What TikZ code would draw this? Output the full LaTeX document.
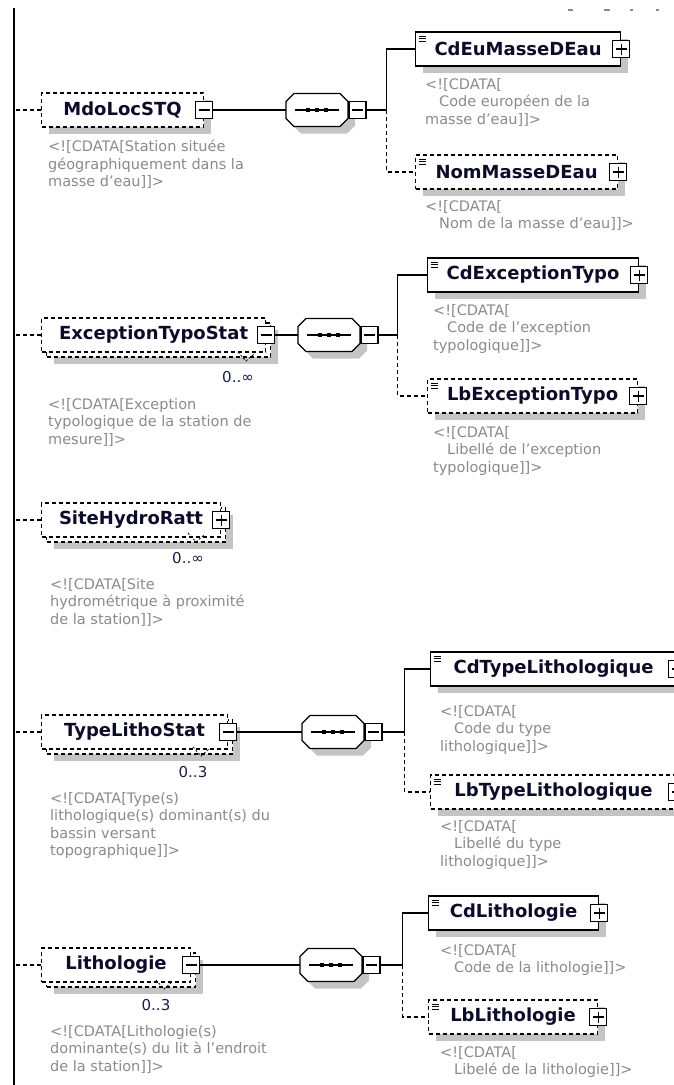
\documentclass[tikz,border=0pt]{standalone}
\usepackage{fontspec}
\setmainfont{DejaVu Sans}
\usetikzlibrary{shadows}
\definecolor{notegray}{RGB}{138,138,138}
\definecolor{boxshadow}{RGB}{196,196,196}
\definecolor{namecol}{RGB}{12,12,40}
\definecolor{cardcol}{RGB}{22,32,72}

\begin{document}
\begin{tikzpicture}[x=1pt,y=-1pt,
	elem/.style={draw, fill=white, line width=1.1pt, minimum height=34, inner sep=0pt, anchor=west, text=namecol, font=\fontsize{18}{21}\selectfont\bfseries},
	opt/.style={elem, dash pattern=on 4pt off 3pt},
	boxshade/.style={drop shadow={shadow xshift=7pt, shadow yshift=-7pt, opacity=1, fill=boxshadow, draw=none}},
	simple/.style={path picture={\draw[solid, black, line width=0.6pt] ([xshift=3pt,yshift=-4pt]path picture bounding box.north west) -- ++(7pt,0pt) ++(-7pt,-2.5pt) -- ++(7pt,0pt) ++(-7pt,-2.5pt) -- ++(7pt,0pt);}},
	tog/.style={draw, solid, fill=white, line width=1.1pt, minimum size=17, inner sep=0pt},
	minus/.style={tog, path picture={\draw[black, line width=1.1pt] ([xshift=3pt]path picture bounding box.west) -- ([xshift=-3pt]path picture bounding box.east);}},
	plus/.style={tog, path picture={\draw[black, line width=1.1pt] ([xshift=3pt]path picture bounding box.west) -- ([xshift=-3pt]path picture bounding box.east) ([yshift=-3pt]path picture bounding box.north) -- ([yshift=3pt]path picture bounding box.south);}},
	seq/.style={minimum width=62, minimum height=33, inner sep=0pt, anchor=west},
	seqpath/.style={insert path={++(0,-8.5) -- ++(8,-8) -- ++(46,0) -- ++(8,8) -- ++(0,17) -- ++(-8,8) -- ++(-46,0) -- ++(-8,-8) -- cycle}},
	seqline/.style={draw, fill=white, line width=1.1pt, boxshade,
		path picture={\draw[black, line width=1.1pt] ([xshift=9pt]path picture bounding box.west) -- ([xshift=-9pt]path picture bounding box.east);
			\fill[black] ([xshift=-9pt]path picture bounding box.center) +(-2.4pt,-2.4pt) rectangle +(2.4pt,2.4pt);
			\fill[black] (path picture bounding box.center) +(-2.4pt,-2.4pt) rectangle +(2.4pt,2.4pt);
			\fill[black] ([xshift=9pt]path picture bounding box.center) +(-2.4pt,-2.4pt) rectangle +(2.4pt,2.4pt);}},
	link/.style={line width=1.1pt},
	optlink/.style={link, dash pattern=on 4pt off 3pt},
	note/.style={anchor=north west, inner sep=0pt, align=left, text=notegray, font=\fontsize{14.5}{17.5}\selectfont},
	card/.style={inner sep=0pt, text=cardcol, font=\fontsize{15}{17}\selectfont},
	cardtick/.style={line width=0.8pt, dash pattern=on 2pt off 2pt}]
	\useasboundingbox (0,0) rectangle (673,1085);
	\coordinate (spinetop) at (14,8);
	\coordinate (spinebot) at (14,1085);
	\draw [line width=2pt] (spinetop) -- (spinebot);
	\draw [notegray, line width=1.2pt] (568,10) -- ++(5,0) (604,10) -- ++(6,0) (630,10) -- ++(3,0) (656,10) -- ++(3,0);

	\node [opt, boxshade, minimum width=162] (m1) at (41,110) {MdoLocSTQ};
	\node [minus] (m1t) at (m1.east) {};
	\node [seq] (s1) at (286,110) {};
	\filldraw [seqline] (s1.west) [seqpath];
	\node [minus, anchor=west] (s1t) at (s1.east) {};
	\node [elem, boxshade, simple, minimum width=205] (c1a) at (415,49) {CdEuMasseDEau};
	\node [plus] (c1at) at (c1a.east) {};
	\node [opt, boxshade, simple, minimum width=202] (c1b) at (415,172) {NomMasseDEau};
	\node [plus] (c1bt) at (c1b.east) {};
	\draw [optlink] (m1.west) -- (m1.west -| spinetop);
	\draw [link] (m1t.east) -- (s1.west);
	\draw [link] (s1t.east) -- ++(20,0) coordinate (j1) |- (c1a.west);
	\draw [optlink] (j1) |- (c1b.west);
	\node [note] (n1) at (48,140) {<![CDATA[Station située\\géographiquement dans la\\masse d'eau]]>};
	\node [note] (n1a) at (425,78) {<![CDATA[\\\hspace*{14pt}Code européen de la\\masse d'eau]]>};
	\node [note] (n1b) at (425,200) {<![CDATA[\\\hspace*{14pt}Nom de la masse d'eau]]>};

	\node [opt, boxshade, minimum width=224] (m2b) at (46,340) {};
	\node [opt, minimum width=224] (m2) at (41,335) {ExceptionTypoStat};
	\node [minus] (m2t) at (m2.east) {};
	\node [card] (k2) at (238,377) {0..∞};
	\draw [cardtick] ([shift={(0,-25)}]k2.center) -- ++(8,9) -- ++(8,-7);
	\node [seq] (s2) at (298,335) {};
	\filldraw [seqline] (s2.west) [seqpath];
	\node [minus, anchor=west] (s2t) at (s2.east) {};
	\node [elem, boxshade, simple, minimum width=211] (c2a) at (427,275) {CdExceptionTypo};
	\node [plus] (c2at) at (c2a.east) {};
	\node [opt, boxshade, simple, minimum width=210] (c2b) at (427,396) {LbExceptionTypo};
	\node [plus] (c2bt) at (c2b.east) {};
	\draw [optlink] (m2.west) -- (m2.west -| spinetop);
	\draw [link] (m2t.east) -- (s2.west);
	\draw [link] (s2t.east) -- ++(19,0) coordinate (j2) |- (c2a.west);
	\draw [optlink] (j2) |- (c2b.west);
	\node [note] (n2) at (48,398) {<![CDATA[Exception\\typologique de la station de\\mesure]]>};
	\node [note] (n2a) at (433,304) {<![CDATA[\\\hspace*{14pt}Code de l'exception\\typologique]]>};
	\node [note] (n2b) at (433,426) {<![CDATA[\\\hspace*{14pt}Libellé de l'exception\\typologique]]>};

	\node [opt, boxshade, minimum width=179] (m3b) at (46,525) {};
	\node [opt, minimum width=179] (m3) at (41,520) {SiteHydroRatt};
	\node [plus] (m3t) at (m3.east) {};
	\node [card] (k3) at (188,558) {0..∞};
	\draw [cardtick] ([shift={(0,-25)}]k3.center) -- ++(8,9) -- ++(8,-7);
	\draw [optlink] (m3.west) -- (m3.west -| spinetop);
	\node [note] (n3) at (50,578) {<![CDATA[Site\\hydrométrique à proximité\\de la station]]>};

	\node [opt, boxshade, minimum width=186] (m4b) at (46,737) {};
	\node [opt, minimum width=186] (m4) at (41,732) {TypeLithoStat};
	\node [minus] (m4t) at (m4.east) {};
	\node [card] (k4) at (193,772) {0..3};
	\draw [cardtick] ([shift={(0,-25)}]k4.center) -- ++(8,9) -- ++(8,-7);
	\node [seq] (s4) at (302,732) {};
	\filldraw [seqline] (s4.west) [seqpath];
	\node [minus, anchor=west] (s4t) at (s4.east) {};
	\node [elem, boxshade, simple, minimum width=246] (c4a) at (430,669) {CdTypeLithologique};
	\node [plus] (c4at) at (c4a.east) {};
	\node [opt, boxshade, simple, minimum width=246] (c4b) at (430,792) {LbTypeLithologique};
	\node [plus] (c4bt) at (c4b.east) {};
	\draw [optlink] (m4.west) -- (m4.west -| spinetop);
	\draw [link] (m4t.east) -- (s4.west);
	\draw [link] (s4t.east) -- ++(22,0) coordinate (j4) |- (c4a.west);
	\draw [optlink] (j4) |- (c4b.west);
	\node [note] (n4) at (50,792) {<![CDATA[Type(s)\\lithologique(s) dominant(s) du\\bassin versant\\topographique]]>};
	\node [note] (n4a) at (440,705) {<![CDATA[\\\hspace*{14pt}Code du type\\lithologique]]>};
	\node [note] (n4b) at (440,820) {<![CDATA[\\\hspace*{14pt}Libellé du type\\lithologique]]>};

	\node [opt, boxshade, minimum width=149] (m5b) at (46,970) {};
	\node [opt, minimum width=149] (m5) at (41,965) {Lithologie};
	\node [minus] (m5t) at (m5.east) {};
	\node [card] (k5) at (156,1005) {0..3};
	\draw [cardtick] ([shift={(0,-25)}]k5.center) -- ++(8,9) -- ++(8,-7);
	\node [seq] (s5) at (300,965) {};
	\filldraw [seqline] (s5.west) [seqpath];
	\node [minus, anchor=west] (s5t) at (s5.east) {};
	\node [elem, boxshade, simple, minimum width=170] (c5a) at (428,913) {CdLithologie};
	\node [plus] (c5at) at (c5a.east) {};
	\node [opt, boxshade, simple, minimum width=169] (c5b) at (428,1017) {LbLithologie};
	\node [plus] (c5bt) at (c5b.east) {};
	\draw [optlink] (m5.west) -- (m5.west -| spinetop);
	\draw [link] (m5t.east) -- (s5.west);
	\draw [link] (s5t.east) -- ++(22,0) coordinate (j5) |- (c5a.west);
	\draw [optlink] (j5) |- (c5b.west);
	\node [note] (n5) at (50,1025) {<![CDATA[Lithologie(s)\\dominante(s) du lit à l'endroit\\de la station]]>};
	\node [note] (n5a) at (440,944) {<![CDATA[\\\hspace*{14pt}Code de la lithologie]]>};
	\node [note] (n5b) at (440,1046) {<![CDATA[\\\hspace*{14pt}Libelé de la lithologie]]>};
\end{tikzpicture}
\end{document}
